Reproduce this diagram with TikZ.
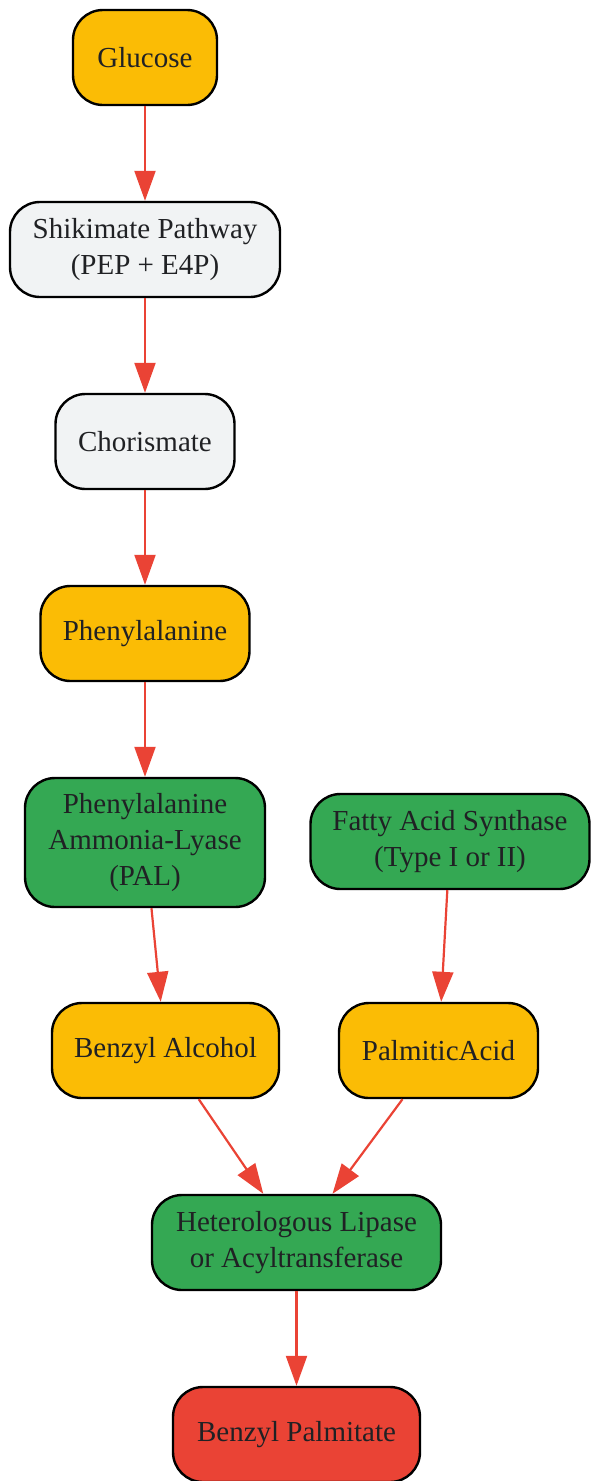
\documentclass[tikz,border=0pt]{standalone}
\usepackage{fontspec}
\setmainfont{Liberation Serif}
\usetikzlibrary{positioning, arrows.meta}

\definecolor{subyellow}{HTML}{FBBC05}
\definecolor{enzgreen}{HTML}{34A853}
\definecolor{prodred}{HTML}{EA4335}
\definecolor{midgray}{HTML}{F1F3F4}
\definecolor{txtgray}{HTML}{202124}

\begin{document}
\begin{tikzpicture}[x=1pt, y=-1pt,
    box/.style={draw=black, line width=2.4pt, rounded corners=30pt, align=center,
        minimum height=95pt, inner sep=0pt, text=txtgray,
        font=\fontsize{29}{36}\selectfont},
    flow/.style={draw=prodred, fill=prodred, line width=2.2pt,
        -{Triangle[length=30pt, width=21pt]}}]

    \useasboundingbox (0,0) rectangle (590,1481);

    % Main trunk (glucose down to phenylalanine)
    \node[box, fill=subyellow, minimum width=144pt] (glucose) at (145,57.5) {Glucose};
    \node[box, fill=midgray, minimum width=270pt] (shikimate) at (145,249.5) {Shikimate Pathway\\(PEP + E4P)};
    \node[box, fill=midgray, minimum width=179pt] (chorismate) at (145,441.5) {Chorismate};
    \node[box, fill=subyellow, minimum width=209pt] (phe) at (145,633.5) {Phenylalanine};

    % Enzymes
    \node[box, fill=enzgreen, minimum width=240pt, minimum height=129pt] (pal) at (145,842.5) {Phenylalanine\\Ammonia-Lyase\\(PAL)};
    \node[box, fill=enzgreen, minimum width=279pt] (fas) at (450,841.5) {Fatty Acid Synthase\\(Type I or II)};

    % Substrates for the ester
    \node[box, fill=subyellow, minimum width=227pt] (alcohol) at (165.5,1050.5) {Benzyl Alcohol};
    \node[box, fill=subyellow, minimum width=199pt] (palmitic) at (438.5,1050.5) {PalmiticAcid};

    % Final step
    \node[box, fill=enzgreen, minimum width=289pt] (lipase) at (296.5,1242.5) {Heterologous Lipase\\or Acyltransferase};
    \node[box, fill=prodred, minimum width=247pt] (product) at (296.5,1434.5) {Benzyl Palmitate};

    % Arrows
    \draw[flow] (glucose) -- (shikimate);
    \draw[flow] (shikimate) -- (chorismate);
    \draw[flow] (chorismate) -- (phe);
    \draw[flow] (phe) -- (pal);
    \draw[flow] (pal) -- (alcohol);
    \draw[flow] (fas) -- (palmitic);
    \draw[flow] (alcohol) -- (lipase);
    \draw[flow] (palmitic) -- (lipase);
    \draw[flow] (lipase) -- (product);

\end{tikzpicture}
\end{document}
